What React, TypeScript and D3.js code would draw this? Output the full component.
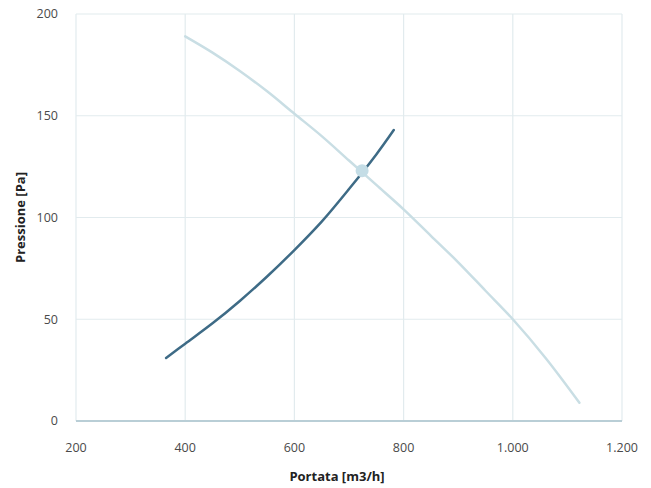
import React from "react";
import * as d3 from "d3";

// fan curve (light) - portata [m3/h], pressione [Pa]
const fanFlow = [400, 450, 500, 550, 600, 650, 700, 750, 800, 850, 900, 950, 1000, 1060, 1122];
const fanPressure = [189, 181, 172, 162, 151, 140, 128, 116, 104, 91, 78, 64, 50, 31, 9];

// system curve (dark)
const sysFlow = [365, 400, 450, 500, 550, 600, 650, 700, 750, 782];
const sysPressure = [31, 38, 48, 59, 71, 84, 98, 114, 131, 143];

// working point
const workFlow = [724];
const workPressure = [123];

const xTicks = [200, 400, 600, 800, 1000, 1200];
const yTicks = [0, 50, 100, 150, 200];

const W = 651;
const H = 488;
const M = { left: 76, right: 30, top: 14, bottom: 67 };

const fmt = (v: number) => d3.format(",")(v).replace(/,/g, ".");

const App = () => {
  const x = d3.scaleLinear().domain([200, 1200]).range([M.left, W - M.right + 1]);
  const y = d3.scaleLinear().domain([0, 200]).range([H - M.bottom, M.top]);

  const line = d3
    .line<[number, number]>()
    .x((d) => x(d[0]))
    .y((d) => y(d[1]))
    .curve(d3.curveCatmullRom.alpha(0.5));

  const fanData = fanFlow.map((f, i) => [f, fanPressure[i]] as [number, number]);
  const sysData = sysFlow.map((f, i) => [f, sysPressure[i]] as [number, number]);

  const font = "'Open Sans', 'Liberation Sans', sans-serif";

  return (
    <svg
      width={W}
      height={H}
      style={{ position: "absolute", left: 0, top: 0, background: "#fff" }}
      fontFamily={font}
    >
      {xTicks.map((t) => (
        <line key={"gx" + t} x1={x(t)} x2={x(t)} y1={y(200)} y2={y(0)} stroke="#e2ebee" strokeWidth={1.2} />
      ))}
      {yTicks.filter((t) => t > 0).map((t) => (
        <line key={"gy" + t} x1={x(200)} x2={x(1200)} y1={y(t)} y2={y(t)} stroke="#e2ebee" strokeWidth={1.2} />
      ))}
      <line x1={x(200)} x2={x(1200)} y1={y(0)} y2={y(0)} stroke="#b9ced6" strokeWidth={2} />

      {yTicks.map((t) => (
        <text key={"ly" + t} x={58} y={y(t)} dy="0.35em" textAnchor="end" fontSize={12.5} fill="#4a4a4a">
          {t}
        </text>
      ))}
      {xTicks.map((t) => (
        <text key={"lx" + t} x={x(t)} y={448} dy="0.35em" textAnchor="middle" fontSize={12.5} fill="#4a4a4a">
          {fmt(t)}
        </text>
      ))}

      <text x={337} y={476} dy="0.35em" textAnchor="middle" fontSize={13} fontWeight="bold" fill="#222">
        Portata [m3/h]
      </text>
      <text
        transform={`translate(20 ${(y(0) + y(200)) / 2}) rotate(-90)`}
        dy="0.35em"
        textAnchor="middle"
        fontSize={13}
        fontWeight="bold"
        fill="#222"
      >
        Pressione [Pa]
      </text>

      <path d={line(fanData) || ""} fill="none" stroke="#c9dee4" strokeWidth={2.5} strokeLinecap="round" />
      <path d={line(sysData) || ""} fill="none" stroke="#3e6b86" strokeWidth={2.5} strokeLinecap="round" />
      {workFlow.map((f, i) => (
        <circle key={i} cx={x(f)} cy={y(workPressure[i])} r={6.5} fill="#c4dde6" />
      ))}
    </svg>
  );
};

export default App;
